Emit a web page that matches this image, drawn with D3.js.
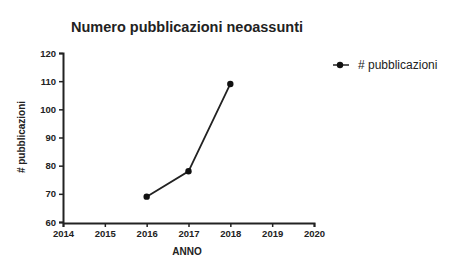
<!doctype html>
<html>
<head>
<meta charset="utf-8">
<title>Numero pubblicazioni neoassunti</title>
<script src="https://d3js.org/d3.v7.min.js"></script>
<style>
  body { margin: 0; background: #fff; }
  svg text { font-family: "Liberation Sans", Arial, sans-serif; fill: #222; }
</style>
</head>
<body>
<script>
// values
var anni = [2016, 2017, 2018];
var pubblicazioni = [69, 78, 109];
var xTicks = [2014, 2015, 2016, 2017, 2018, 2019, 2020];
var yTicks = [60, 70, 80, 90, 100, 110, 120];

var svg = d3.select("body").append("svg")
    .attr("width", 454)
    .attr("height", 257);

var x = d3.scaleLinear().domain([2014, 2020]).range([63, 314]);
var y = d3.scaleLinear().domain([60, 120]).range([222, 53]);

// title
svg.append("text")
    .attr("x", 187).attr("y", 32)
    .attr("text-anchor", "middle")
    .style("font-size", "14.5px").style("font-weight", "bold")
    .text("Numero pubblicazioni neoassunti");

// axes
var yAxis = svg.append("g")
    .attr("transform", "translate(63,0)")
    .call(d3.axisLeft(y).tickValues(yTicks).tickSize(4).tickPadding(3));
var xAxis = svg.append("g")
    .attr("transform", "translate(0,223)")
    .call(d3.axisBottom(x).tickValues(xTicks).tickFormat(d3.format("d")).tickSize(4).tickPadding(3));

[yAxis, xAxis].forEach(function(g) {
    g.select(".domain").attr("stroke", "#222").attr("stroke-width", 2);
    g.selectAll(".tick line").attr("stroke", "#222").attr("stroke-width", 1.5);
    g.selectAll(".tick text").style("font-size", "9.5px").style("font-weight", "bold").attr("fill", "#333");
});

// axis labels
svg.append("text")
    .attr("transform", "translate(25,137) rotate(-90)")
    .attr("text-anchor", "middle")
    .style("font-size", "10px").style("font-weight", "bold")
    .text("# pubblicazioni");
svg.append("text")
    .attr("x", 187).attr("y", 255)
    .attr("text-anchor", "middle")
    .style("font-size", "10px").style("font-weight", "bold")
    .text("ANNO");

// line + points
var line = d3.line()
    .x(function(d, i) { return x(anni[i]); })
    .y(function(d) { return y(d); });

svg.append("path")
    .datum(pubblicazioni)
    .attr("d", line)
    .attr("fill", "none")
    .attr("stroke", "#222")
    .attr("stroke-width", 1.8);

svg.selectAll("circle.pt")
    .data(pubblicazioni)
    .enter().append("circle")
    .attr("class", "pt")
    .attr("cx", function(d, i) { return x(anni[i]); })
    .attr("cy", function(d) { return y(d); })
    .attr("r", 3.2)
    .attr("fill", "#111");

// legend
var leg = svg.append("g").attr("transform", "translate(333,65)");
leg.append("line").attr("x1", 0).attr("x2", 16).attr("y1", 0).attr("y2", 0)
    .attr("stroke", "#222").attr("stroke-width", 1.5);
leg.append("circle").attr("cx", 7).attr("cy", 0).attr("r", 3.2).attr("fill", "#111");
leg.append("text").attr("x", 25).attr("y", 4)
    .style("font-size", "12px")
    .text("# pubblicazioni");
</script>
</body>
</html>
